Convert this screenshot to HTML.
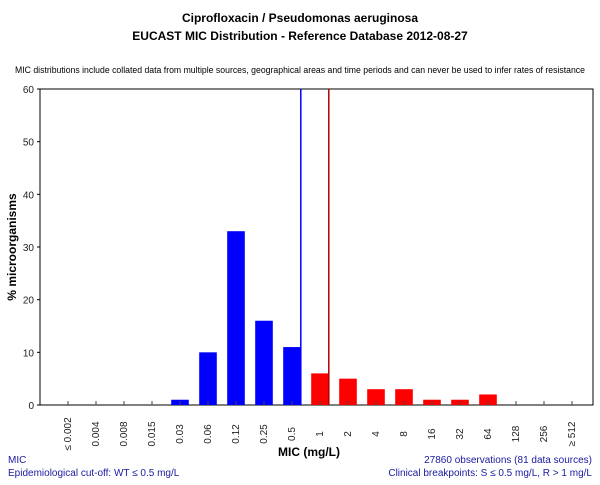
<!DOCTYPE html>
<html><head><meta charset="utf-8"><style>
body{margin:0;background:#fff;}
svg text{font-family:"Liberation Sans",Arial,sans-serif;}
</style></head><body>
<svg width="600" height="480" xmlns="http://www.w3.org/2000/svg">
<rect width="600" height="480" fill="#fff"/>
<text x="300" y="22" text-anchor="middle" font-size="12" font-weight="bold">Ciprofloxacin / Pseudomonas aeruginosa</text>
<text x="300" y="40" text-anchor="middle" font-size="12" font-weight="bold">EUCAST MIC Distribution - Reference Database 2012-08-27</text>
<text x="300" y="73" text-anchor="middle" font-size="9" textLength="570" lengthAdjust="spacingAndGlyphs">MIC distributions include collated data from multiple sources, geographical areas and time periods and can never be used to infer rates of resistance</text>
<g id="plot"></g>
<text transform="translate(16,247) rotate(-90)" text-anchor="middle" font-size="12" font-weight="bold">% microorganisms</text>
<text x="309" y="456" text-anchor="middle" font-size="12" font-weight="bold">MIC (mg/L)</text>
<text x="8" y="463" font-size="10" fill="#1a1aa0">MIC</text>
<text x="8" y="476" font-size="10" fill="#1a1aa0">Epidemiological cut-off: WT ≤ 0.5 mg/L</text>
<text x="592" y="463" text-anchor="end" font-size="10" fill="#1a1aa0">27860 observations (81 data sources)</text>
<text x="592" y="476" text-anchor="end" font-size="10" fill="#1a1aa0">Clinical breakpoints: S ≤ 0.5 mg/L,  R &gt; 1 mg/L</text>
</svg>
<script>
const categories=["≤ 0.002","0.004","0.008","0.015","0.03","0.06","0.12","0.25","0.5","1","2","4","8","16","32","64","128","256","≥ 512"];
const values=[0,0,0,0,1,10,33,16,11,6,5,3,3,1,1,2,0,0,0];
const yTicks=[0,10,20,30,40,50,60];
const ecoffIndex=8;
const breakpointRIndex=9;
const NS="http://www.w3.org/2000/svg";
const g=document.getElementById('plot');
const L=40,R=593,T=89,B=405,X0=68,STEP=28,BW=17.6;
const x=i=>X0+i*STEP;
const y=v=>B-(v/60)*(B-T);
function mk(t,a){const e=document.createElementNS(NS,t);for(const k in a)e.setAttribute(k,a[k]);g.appendChild(e);return e;}
const frame=mk('rect',{x:L,y:T,width:R-L,height:B-T,fill:'none',stroke:'#000','stroke-width':1});


yTicks.forEach(v=>{
  const t=mk('text',{x:L-6,y:y(v)+4,'text-anchor':'end','font-size':10,fill:'#222'});
  t.textContent=v;
  
  
  const l=mk('line',{x1:L-3,x2:L,y1:y(v),y2:y(v),stroke:'#000'});
  
  
});
categories.forEach((c,i)=>{
  const v=values[i];
  if(v>0){
    const r=mk('rect',{x:x(i)-BW/2,y:y(v),width:BW,height:B-y(v),fill:i<=ecoffIndex?'#0000ff':'#ff0000'});
    
    
  }
  const tk=mk('line',{x1:x(i),x2:x(i),y1:B-4,y2:B,stroke:'#444'});
  
  
  const t=mk('text',{transform:`translate(${x(i)+3},434) rotate(-90)`,'text-anchor':'middle','font-size':10,fill:'#222'});
  t.textContent=c;
  
  
});
const bl=mk('line',{x1:x(ecoffIndex)+BW/2,x2:x(ecoffIndex)+BW/2,y1:T,y2:B,stroke:'#0000ff','stroke-width':1.5});


const rl=mk('line',{x1:x(breakpointRIndex)+BW/2,x2:x(breakpointRIndex)+BW/2,y1:T,y2:B,stroke:'#b00000','stroke-width':1.5});


</script>
</body></html>
